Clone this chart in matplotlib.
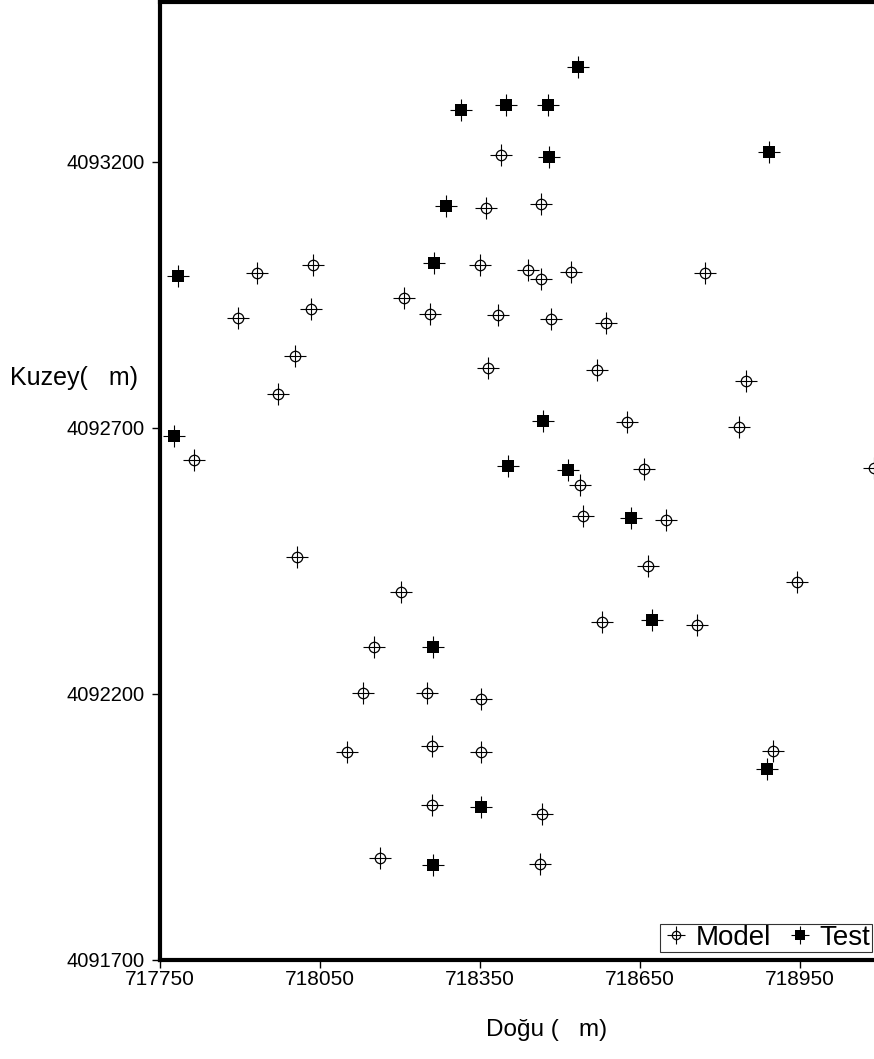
import matplotlib
matplotlib.use("Agg")
import matplotlib.pyplot as plt

plt.rcParams['font.family'] = ['Liberation Sans', 'DejaVu Sans']

# model points (dogu, kuzey) in metres
model_x = [718389, 718464, 718361, 717932, 718037, 718350, 718440, 718464,
           718521, 718772, 718208, 718034, 717896, 718256, 718384, 718483,
           718586, 718003, 718365, 718569, 718849, 717971, 718625, 718836,
           717814, 718658, 719089, 718537, 718543, 718698, 718007, 718665,
           718944, 718202, 718579, 718757, 718151, 718131, 718251, 718352,
           718260, 718101, 718352, 718899, 718260, 718466, 718163, 718463]
model_y = [4093213, 4093121, 4093113, 4092991, 4093006, 4093006, 4092997, 4092980,
           4092993, 4092990, 4092944, 4092924, 4092907, 4092914, 4092911, 4092905,
           4092896, 4092834, 4092813, 4092809, 4092787, 4092764, 4092710, 4092702,
           4092640, 4092622, 4092625, 4092593, 4092534, 4092526, 4092458, 4092441,
           4092411, 4092391, 4092336, 4092329, 4092289, 4092201, 4092201, 4092190,
           4092102, 4092090, 4092090, 4092092, 4091991, 4091974, 4091891, 4091880]

# test points
test_x = [718533, 718315, 718399, 718477, 718479, 718892, 718286, 718264,
          717784, 717776, 718469, 718403, 718515, 718633, 718673, 718262,
          718352, 718888, 718262]
test_y = [4093377, 4093298, 4093306, 4093307, 4093209, 4093219, 4093117, 4093010,
          4092986, 4092684, 4092712, 4092629, 4092620, 4092530, 4092338, 4092288,
          4091987, 4092059, 4091878]

x_ticks = [717750, 718050, 718350, 718650, 718950]
y_ticks = [4091700, 4092200, 4092700, 4093200]

fig = plt.figure(figsize=(8.74, 10.59), dpi=100)
ax = fig.add_axes([160/874, 99/1059, 714/874, 958/1059])

m_cross, = ax.plot(model_x, model_y, '+', ms=16, mew=0.8, color='black')
m_circ, = ax.plot(model_x, model_y, 'o', ms=7.5, mew=0.9, mfc='none', mec='black')
t_cross, = ax.plot(test_x, test_y, '+', ms=16, mew=0.8, color='black')
t_sq, = ax.plot(test_x, test_y, 's', ms=8.5, mew=0, color='black')

ax.set_xlim(717750, 719089)
ax.set_ylim(4091700, 4093500)

ax.set_xticks(x_ticks)
ax.set_yticks(y_ticks)
ax.set_xticklabels([str(v) for v in x_ticks])
ax.set_yticklabels([str(v) for v in y_ticks])
ax.tick_params(labelsize=14.5, length=6, width=1, direction='out', pad=5)
ax.tick_params(axis='x', labelsize=15, pad=1)

for s in ['left', 'top', 'bottom']:
    ax.spines[s].set_linewidth(3)
ax.spines['right'].set_visible(False)

fig.text(10/874, 1 - 378/1059, 'Kuzey(   m)', fontsize=18, va='center', ha='left')
fig.text(547/874, 1 - 1030/1059, 'Doğu (   m)', fontsize=17.5, va='center', ha='center')

leg = ax.legend([(m_cross, m_circ), (t_cross, t_sq)], ['Model', 'Test'],
                ncol=2, loc='lower right', bbox_to_anchor=(0.997, 0.008),
                fontsize=20, frameon=True, fancybox=False,
                handlelength=1.1, handletextpad=0.15, columnspacing=0.5,
                borderpad=0.05, borderaxespad=0, markerscale=0.8)
leg.get_frame().set_edgecolor('black')
leg.get_frame().set_linewidth(0.8)

fig.savefig('out.png', dpi=100)
